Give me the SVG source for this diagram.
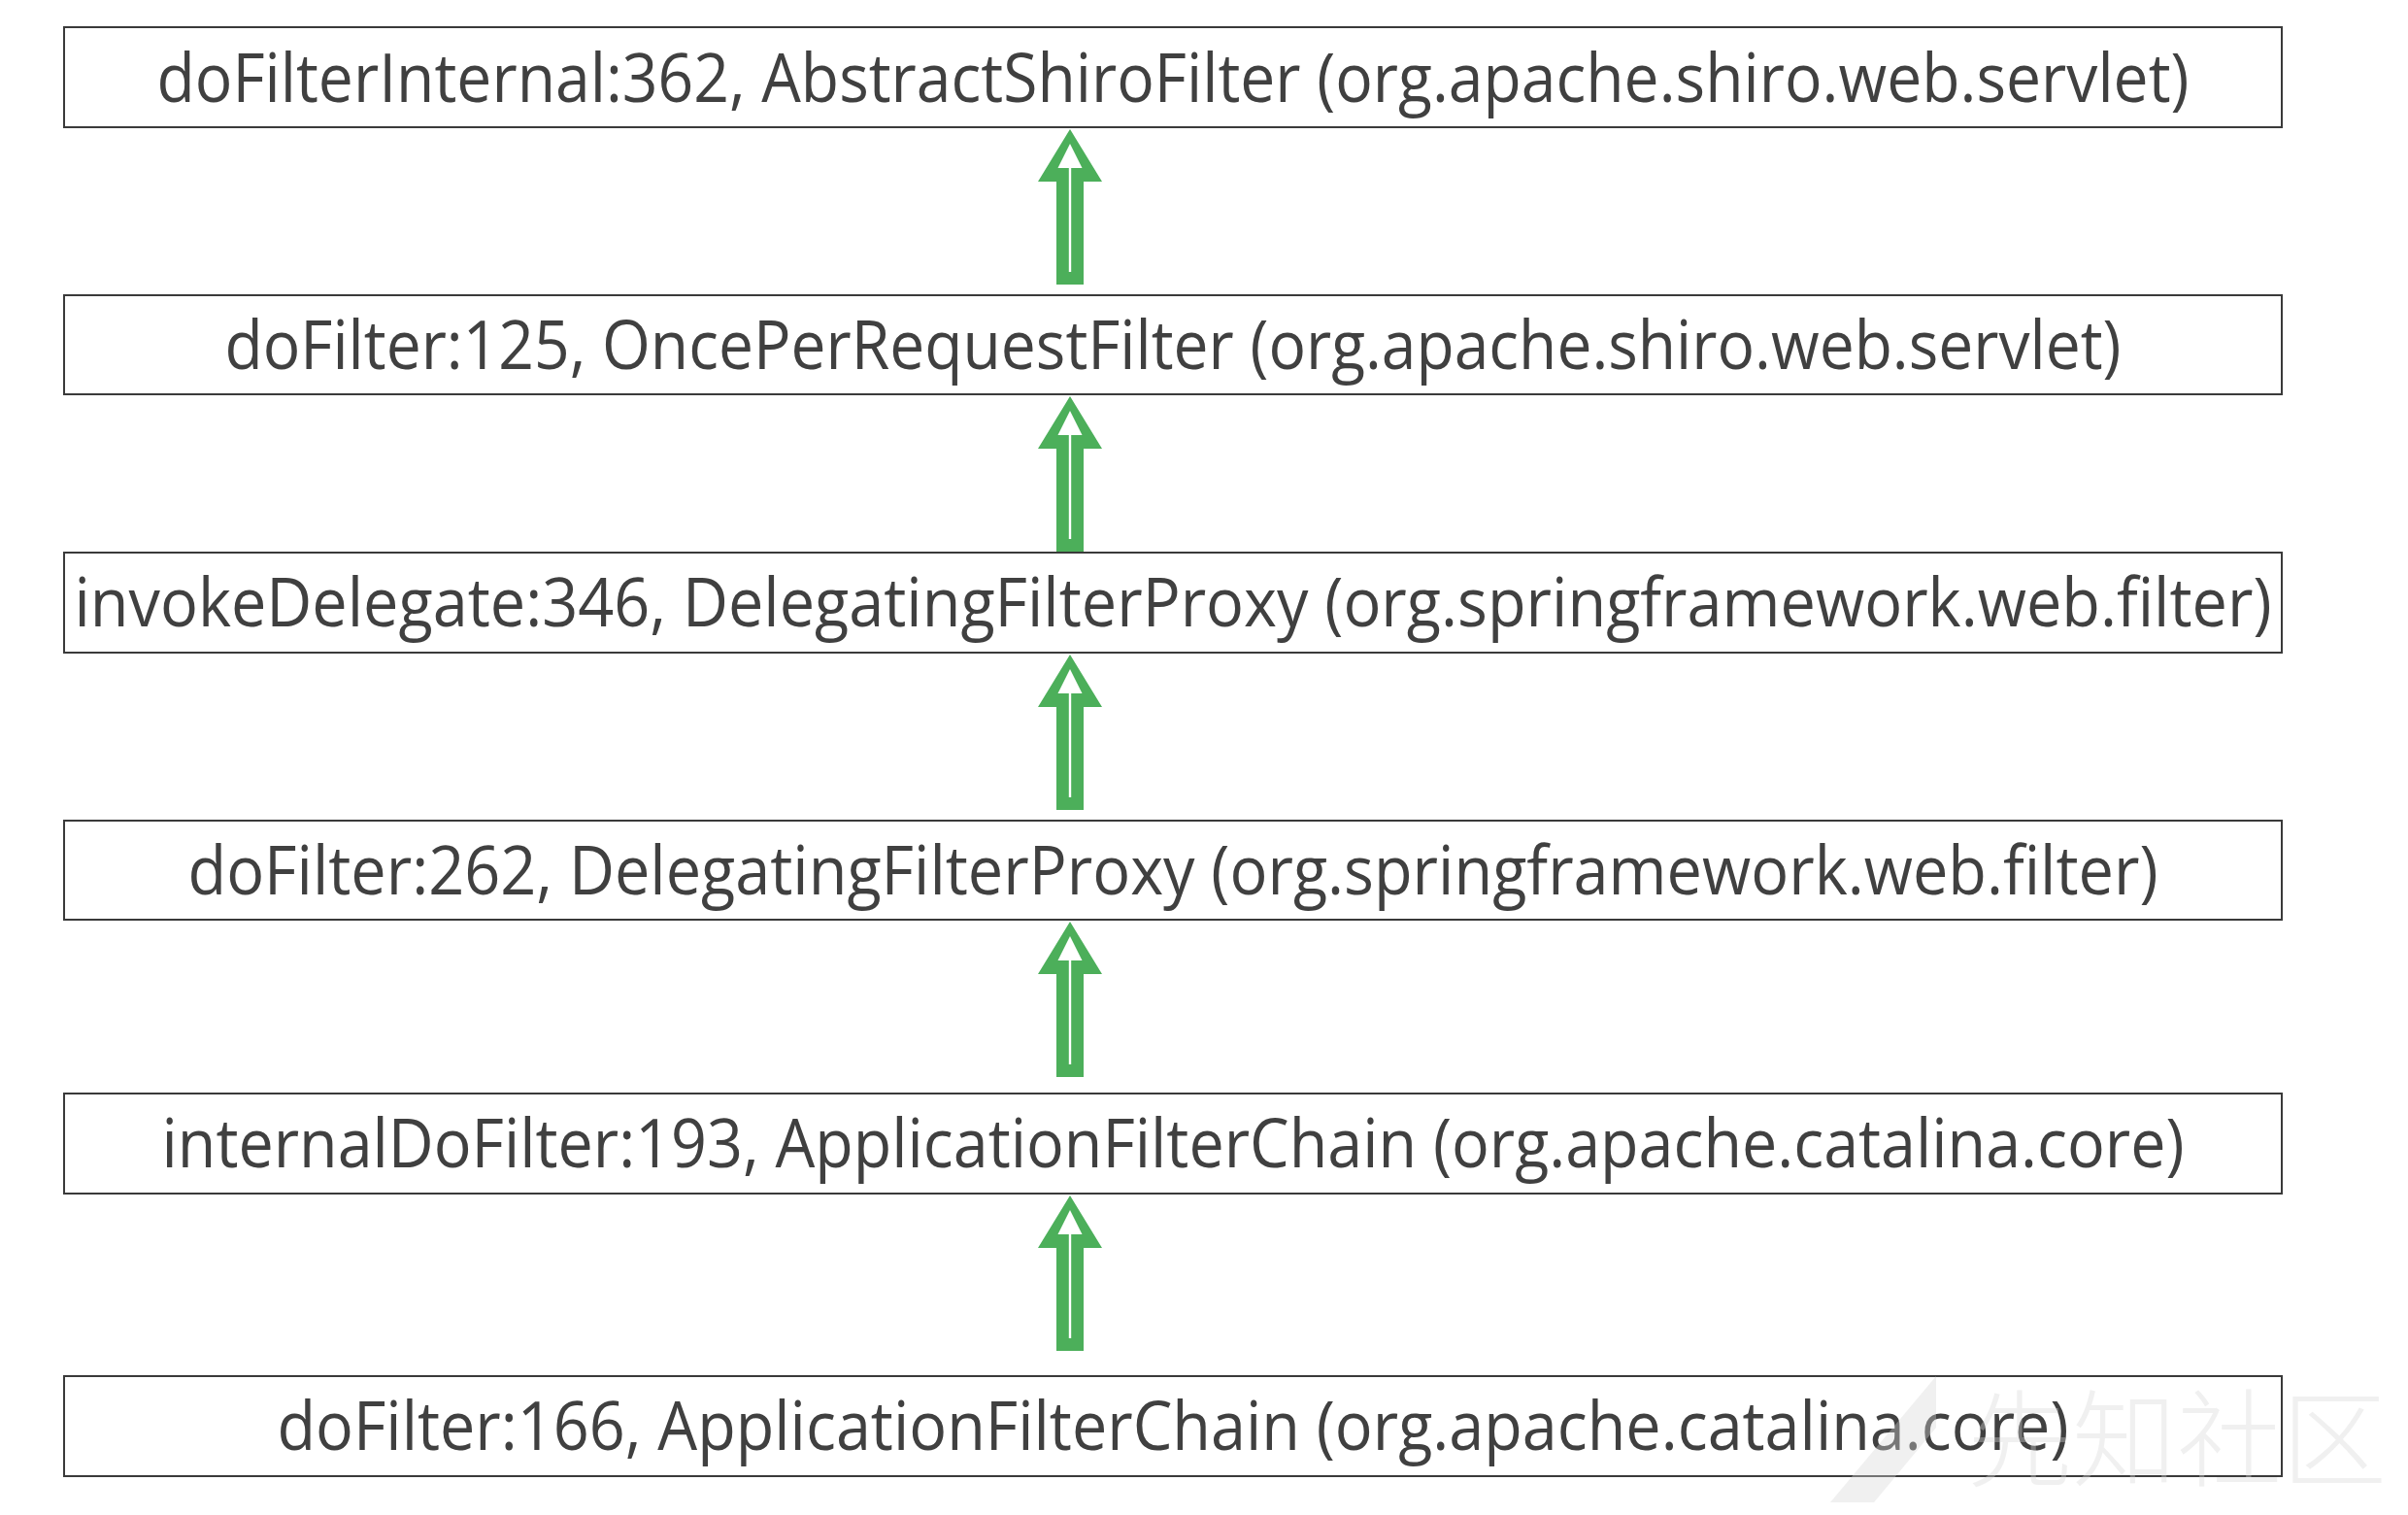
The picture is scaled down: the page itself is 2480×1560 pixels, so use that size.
<svg xmlns="http://www.w3.org/2000/svg" xmlns:xlink="http://www.w3.org/1999/xlink" width="2480" height="1560" viewBox="0 0 2480 1560">
  <style>
    .box { fill: #ffffff; stroke: #3a3a3a; stroke-width: 2; }
    .lbl { font-family: "Open Sans", "Noto Sans", "Liberation Sans", sans-serif; font-size: 70px; fill: #404040; text-anchor: middle; }
    .wm { font-family: "Noto Sans CJK SC", "Noto Sans", sans-serif; font-weight: 300; font-size: 108px; fill: #d6d6d6; fill-opacity: 0.37; }
  </style>
  <defs>
    <g id="arrowUp">
      <polygon points="0,0 33,54 14,54 14,160 -14,160 -14,54 -33,54" fill="#4caf5a"/>
      <polygon points="0,15 12.5,40 -12.5,40" fill="#ffffff"/>
      <rect x="-1.2" y="40" width="2.4" height="107" fill="#ffffff"/>
    </g>
  </defs>
  <rect x="0" y="0" width="2480" height="1560" fill="#ffffff"/>

  <g id="connectors">
    <use xlink:href="#arrowUp" href="#arrowUp" x="1102" y="133"/>
    <use xlink:href="#arrowUp" href="#arrowUp" x="1102" y="408"/>
    <use xlink:href="#arrowUp" href="#arrowUp" x="1102" y="674"/>
    <use xlink:href="#arrowUp" href="#arrowUp" x="1102" y="949"/>
    <use xlink:href="#arrowUp" href="#arrowUp" x="1102" y="1231"/>
  </g>

  <g id="node1">
    <rect class="box" x="66" y="28" width="2284" height="103"/>
    <text class="lbl" x="1208" y="105" textLength="2093" lengthAdjust="spacingAndGlyphs">doFilterInternal:362, AbstractShiroFilter (org.apache.shiro.web.servlet)</text>
  </g>
  <g id="node2">
    <rect class="box" x="66" y="304" width="2284" height="102"/>
    <text class="lbl" x="1208" y="380" textLength="1953" lengthAdjust="spacingAndGlyphs">doFilter:125, OncePerRequestFilter (org.apache.shiro.web.servlet)</text>
  </g>
  <g id="node3">
    <rect class="box" x="66" y="569" width="2284" height="103"/>
    <text class="lbl" x="1208" y="645" textLength="2263" lengthAdjust="spacingAndGlyphs">invokeDelegate:346, DelegatingFilterProxy (org.springframework.web.filter)</text>
  </g>
  <g id="node4">
    <rect class="box" x="66" y="845" width="2284" height="102"/>
    <text class="lbl" x="1208" y="921" textLength="2029" lengthAdjust="spacingAndGlyphs">doFilter:262, DelegatingFilterProxy (org.springframework.web.filter)</text>
  </g>
  <g id="node5">
    <rect class="box" x="66" y="1126" width="2284" height="103"/>
    <text class="lbl" x="1208" y="1202" textLength="2083" lengthAdjust="spacingAndGlyphs">internalDoFilter:193, ApplicationFilterChain (org.apache.catalina.core)</text>
  </g>
  <g id="node6">
    <rect class="box" x="66" y="1417" width="2284" height="103"/>
    <text class="lbl" x="1208" y="1493" textLength="1845" lengthAdjust="spacingAndGlyphs">doFilter:166, ApplicationFilterChain (org.apache.catalina.core)</text>
  </g>

  <g id="watermark">
    <polygon points="1885,1547 1994,1417 1994,1470 1930,1547" fill="#d6d6d6" fill-opacity="0.37"/>
    <text class="wm" x="2026" y="1522">先知社区</text>
  </g>
</svg>
